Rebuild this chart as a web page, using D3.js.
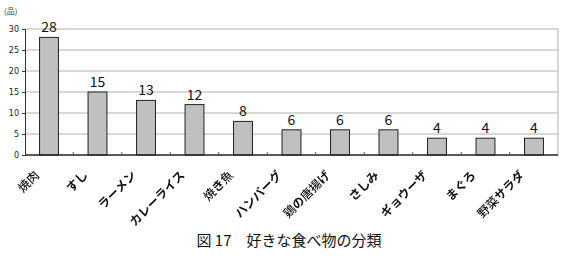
<!DOCTYPE html>
<html>
<head>
<meta charset="utf-8">
<script src="https://cdn.jsdelivr.net/npm/d3@7"></script>
<style>
  body { margin: 0; background: #fff; }
  text { font-family: "Noto Sans CJK JP", "DejaVu Sans", sans-serif; }
</style>
</head>
<body>
<script>
var foods = ['焼肉', 'すし', 'ラーメン', 'カレーライス', '焼き魚', 'ハンバーグ', '鶏の唐揚げ', 'さしみ', 'ギョウーザ', 'まぐろ', '野菜サラダ'];
var counts = [28, 15, 13, 12, 8, 6, 6, 6, 4, 4, 4];
var yTicks = [0, 5, 10, 15, 20, 25, 30];

var W = 561, H = 259;
var margin = { top: 29, right: 3, bottom: 104, left: 25 };
var width = W - margin.left - margin.right;
var height = H - margin.top - margin.bottom;

var svg = d3.select('body').append('svg').attr('width', W).attr('height', H);
svg.append('defs').append('filter').attr('id', 'flat')
  .append('feOffset').attr('dx', 0).attr('dy', 0);
var g = svg.append('g').attr('transform', 'translate(' + margin.left + ',' + margin.top + ')');

var x = d3.scaleBand().domain(foods).range([0, width]).paddingInner(0.61).paddingOuter(0.3);
var y = d3.scaleLinear().domain([0, 30]).range([height, 0]);

// grid lines
g.selectAll('.grid').data(yTicks.slice(1)).enter().append('line')
  .attr('x1', 0).attr('x2', width)
  .attr('y1', function (d) { return y(d); }).attr('y2', function (d) { return y(d); })
  .style('stroke', '#b0b0b0').style('stroke-width', 1);

// right border
g.append('line').attr('x1', width).attr('x2', width).attr('y1', 0).attr('y2', height)
  .style('stroke', '#b0b0b0');

// bars
g.selectAll('.bar').data(foods).enter().append('rect')
  .attr('x', function (d) { return x(d); })
  .attr('y', function (d, i) { return y(counts[i]); })
  .attr('width', x.bandwidth())
  .attr('height', function (d, i) { return height - y(counts[i]); })
  .style('fill', '#c0c0c0').style('stroke', '#222').style('stroke-width', 1);

// value labels
g.selectAll('.val').data(foods).enter().append('text')
  .attr('x', function (d) { return x(d) + x.bandwidth() / 2; })
  .attr('y', function (d, i) { return y(counts[i]) - 5; })
  .attr('text-anchor', 'middle')
  .style('font-size', '14px').style('fill', '#111')
  .text(function (d, i) { return counts[i]; });

// y axis
var yAxis = g.append('g').call(d3.axisLeft(y).tickValues(yTicks).tickSize(3).tickPadding(3));
yAxis.selectAll('text').style('font-size', '8px').style('fill', '#222')
  .style('font-family', '"DejaVu Sans", sans-serif');
yAxis.select('.domain').style('stroke', '#333');
yAxis.selectAll('.tick line').style('stroke', '#333');

// x axis line + category ticks at band boundaries
var step = x.step();
g.append('line').attr('x1', 0).attr('x2', width).attr('y1', height).attr('y2', height)
  .style('stroke', '#222').style('stroke-width', 1.5);
g.selectAll('.xtick').data(foods.slice(1)).enter().append('line')
  .attr('x1', function (d) { return x(d) - (x.paddingInner() * step) / 2; })
  .attr('x2', function (d) { return x(d) - (x.paddingInner() * step) / 2; })
  .attr('y1', height - 3).attr('y2', height)
  .style('stroke', '#555');

// category labels: kana bold, kanji normal (filtered so AA stays grey)
var catLayer = g.append('g').attr('filter', 'url(#flat)');
var cats = catLayer.selectAll('.cat').data(foods).enter().append('text')
  .attr('transform', function (d) {
    return 'translate(' + (x(d) + x.bandwidth() / 2 - 9) + ',' + (height + 21) + ') rotate(-45)';
  })
  .attr('text-anchor', 'end')
  .style('font-size', '12px').style('fill', '#111');
cats.each(function (d) {
  var t = d3.select(this);
  d.split('').forEach(function (c) {
    var kana = /[\u3040-\u30ff]/.test(c);
    t.append('tspan')
      .style('font-weight', kana ? 'bold' : '500')
      .style('fill', '#111')
      .text(c);
  });
});

// unit label
svg.append('text').attr('x', 4).attr('y', 14)
  .style('font-size', '8px').style('fill', '#333').text('(品)');

// title
svg.append('text').attr('x', 289).attr('y', 246).attr('text-anchor', 'middle')
  .style('font-size', '15px').style('fill', '#111').text('図 17　好きな食べ物の分類');
</script>
</body>
</html>
